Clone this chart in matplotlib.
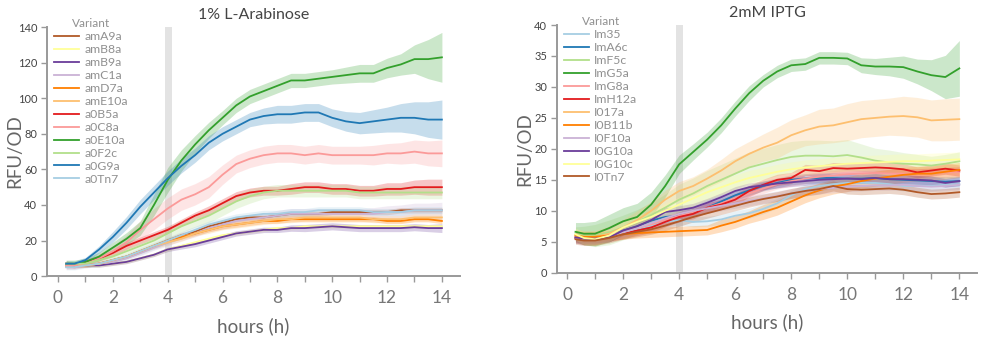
import numpy as np
import matplotlib
matplotlib.use("Agg")
import matplotlib.pyplot as plt
from matplotlib.ticker import MultipleLocator

plt.rcParams['font.family'] = ['Lato', 'DejaVu Sans']

# time grid (hours)
hours = [0.3, 0.6, 1.0, 1.5, 2.0, 2.5, 3.0, 3.5, 4.0, 4.5, 5.0, 5.5, 6.0, 6.5, 7.0,
         7.5, 8.0, 8.5, 9.0, 9.5, 10.0, 10.5, 11.0, 11.5, 12.0, 12.5, 13.0, 13.5, 14.0]

# ---- 1% L-Arabinose ----
ara_names = ['amA9a', 'amB8a', 'amB9a', 'amC1a', 'amD7a', 'amE10a',
             'a0B5a', 'a0C8a', 'a0E10a', 'a0F2c', 'a0G9a', 'a0Tn7']
ara_colors = ['#b15928', '#ffff99', '#6a3d9a', '#cab2d6', '#ff7f00', '#fdbf6f',
              '#e31a1c', '#fb9a99', '#33a02c', '#b2df8a', '#1f78b4', '#a6cee3']

amA9a = [6, 6, 6, 7, 9, 11, 14, 17, 20, 23, 25, 28, 30, 32, 33, 33, 34, 35, 35, 35, 36, 36, 36, 36, 36, 37, 37, 37, 37]
amB8a = [6, 6, 6, 6, 7, 8, 10, 12, 15, 17, 19, 21, 23, 24, 25, 26, 27, 27, 28, 28, 28, 28, 28, 28, 28, 28, 28, 28, 28]
amB9a = [6, 6, 6, 6, 7, 8, 10, 12, 15, 16.5, 18, 20, 22, 24, 25, 26, 26, 27, 27, 27.5, 28, 27.5, 27, 27, 27, 27, 27.5, 27, 27]
amC1a = [5, 5, 6, 7, 8, 10, 13, 16, 19, 22, 24, 27, 29, 31, 32, 33, 34, 35, 35, 35, 35, 35, 35, 35, 36, 36, 37, 37, 37]
amD7a = [6, 6, 6, 7, 9, 11, 14, 17, 20, 22, 24, 26, 28, 29, 30, 31, 31, 32, 32, 32, 32, 32, 32, 32, 31, 31, 32, 32, 31]
amE10a = [6, 6, 6, 7, 9, 11, 14, 17, 19, 21, 24, 26, 28, 29, 30, 31, 32, 32, 33, 33, 33, 33, 33, 32, 32, 32, 33, 33, 33]
a0B5a = [7, 6, 8, 10, 13, 17, 20, 23, 26, 30, 34, 37, 41, 45, 47, 48, 48, 49, 50, 50, 49, 49, 48, 48, 49, 49, 50, 50, 50]
a0C8a = [6, 6, 7, 10, 14, 19, 26, 32, 38, 43, 46, 50, 57, 63, 66, 68, 69, 69, 68, 69, 68, 68, 68, 68, 69, 69, 70, 69, 69]
a0E10a = [7, 7, 8, 11, 16, 21, 27, 40, 54, 65, 74, 82, 89, 96, 101, 104, 107, 110, 110, 111, 112, 113, 114, 114, 117, 119, 122, 122, 123]
a0F2c = [7, 7, 7, 9, 11, 14, 17, 20, 24, 28, 31, 34, 38, 42, 45, 47, 48, 48, 48, 48, 48, 48, 47, 47, 47, 47, 47, 47, 47]
a0G9a = [7, 7, 9, 15, 22, 30, 39, 47, 55, 62, 68, 75, 80, 84, 88, 90, 91, 91, 92, 92, 89, 87, 86, 87, 88, 89, 89, 88, 88]
a0Tn7 = [5, 5, 6, 7, 9, 11, 14, 17, 20, 23, 26, 29, 31, 33, 34, 35, 35, 36, 36, 37, 37, 37, 37, 36, 36, 36, 37, 37, 37]

amA9a_err = [1, 1, 1, 1, 1, 1, 1.2, 1.3, 1.5, 1.5, 1.5, 1.5, 1.5, 1.5, 1.5, 1.5, 1.5, 1.5, 1.5, 1.5, 1.5, 1.5, 1.5, 1.5, 1.5, 1.5, 1.5, 1.5, 1.5]
amB8a_err = [1, 1, 1, 1, 1, 1, 1, 1, 1, 1, 1, 1, 1, 1, 1, 1, 1, 1, 1, 1, 1, 1, 1, 1, 1, 1, 1, 1, 1]
amB9a_err = [1, 1, 1, 1, 1, 1, 1, 1, 1.2, 1.3, 1.5, 1.5, 1.5, 1.5, 1.5, 1.5, 1.5, 1.8, 2, 2, 2, 2, 2, 2, 2, 2, 2, 2, 2.5]
amC1a_err = [1, 1, 1, 1, 1, 1, 1.5, 1.5, 2, 2, 2, 2, 2.5, 2.5, 2.5, 2.5, 3, 3, 3, 3, 3, 3, 3, 3.5, 3.5, 4, 4, 4, 4.5]
amD7a_err = [1, 1, 1, 1, 1, 1, 1, 1, 1.2, 1.2, 1.2, 1.2, 1.5, 1.5, 1.5, 1.5, 1.5, 1.5, 1.5, 1.5, 1.5, 1.5, 1.5, 1.5, 1.5, 1.5, 1.5, 1.5, 1.5]
amE10a_err = [1, 1, 1, 1, 1, 1, 1.2, 1.5, 1.5, 1.5, 1.5, 2, 2, 2, 2, 2, 2, 2, 2, 2, 2, 2, 2, 2, 2, 2, 2, 2, 2]
a0B5a_err = [1.5, 1.5, 1.5, 1.5, 1.5, 2, 2, 2, 2, 2, 2, 2.5, 2.5, 2.5, 2.5, 2.5, 2.5, 3, 3, 3, 3, 3, 3, 3, 3.5, 3.5, 4, 4.5, 4.5]
a0C8a_err = [2, 2, 2, 2.5, 3, 4, 5, 6, 6, 6, 6, 6, 5.5, 5, 5, 5, 5, 5, 5, 5, 5, 5, 5, 5.5, 5.5, 6, 6.5, 7, 7.5]
a0E10a_err = [2, 2, 2, 2.5, 3, 3.5, 4, 6, 7, 6, 5, 4.5, 4, 4, 4, 4, 4, 4, 4, 4, 4, 4.5, 5, 5, 5.5, 6, 8, 11, 14]
a0F2c_err = [1.5, 1.5, 1.5, 1.5, 2, 2, 2.5, 3, 3, 3.5, 3.5, 4, 4, 4, 4, 3.5, 3.5, 3.5, 3.5, 3.5, 3.5, 3.5, 3.5, 3.5, 3.5, 3.5, 3.5, 3.5, 3.5]
a0G9a_err = [1.5, 1.5, 1.5, 2, 3, 3.5, 4, 4, 4, 4, 4, 4, 4, 4, 4, 4.5, 5, 5, 5, 5, 5, 5.5, 6, 6.5, 7, 8, 9, 10, 11]
a0Tn7_err = [1.5, 1.5, 1.5, 1.5, 1.5, 1.5, 2, 2, 2, 2, 2, 2, 2, 2, 2, 2, 2, 2, 2, 2, 2, 2, 2, 2, 2, 2, 2, 2, 2]

ara_means = [amA9a, amB8a, amB9a, amC1a, amD7a, amE10a, a0B5a, a0C8a, a0E10a, a0F2c, a0G9a, a0Tn7]
ara_errs = [amA9a_err, amB8a_err, amB9a_err, amC1a_err, amD7a_err, amE10a_err,
            a0B5a_err, a0C8a_err, a0E10a_err, a0F2c_err, a0G9a_err, a0Tn7_err]

# ---- 2mM IPTG ----
iptg_names = ['Im35', 'ImA6c', 'ImF5c', 'ImG5a', 'ImG8a', 'ImH12a',
              'I017a', 'I0B11b', 'I0F10a', 'I0G10a', 'I0G10c', 'I0Tn7']
iptg_colors = ['#a6cee3', '#1f78b4', '#b2df8a', '#33a02c', '#fb9a99', '#e31a1c',
               '#fdbf6f', '#ff7f00', '#cab2d6', '#6a3d9a', '#ffff99', '#b15928']

Im35 = [5.8, 5.5, 5.5, 5.9, 6.5, 7.1, 7.6, 8.2, 8.5, 8.2, 8.3, 8.6, 9.2, 9.6, 10.3, 11.2, 12.5, 13.5, 14.0, 14.3, 14.5, 14.5, 14.5, 14.3, 14.0, 14.0, 14.0, 14.2, 14.3]
ImA6c = [5.6, 5.4, 5.4, 5.8, 6.8, 7.5, 8.4, 9.0, 9.2, 9.8, 10.5, 11.5, 12.5, 13.3, 14.0, 14.5, 15.0, 15.2, 15.3, 15.3, 15.2, 15.2, 15.3, 15.1, 15.0, 14.9, 14.8, 14.7, 14.8]
ImF5c = [6.2, 6.0, 6.0, 6.5, 7.3, 8.2, 9.3, 10.5, 11.8, 12.8, 14.0, 15.0, 16.0, 17.0, 17.6, 18.2, 18.7, 18.9, 18.9, 18.8, 19.0, 18.6, 18.1, 17.8, 17.6, 17.5, 17.3, 17.6, 18.0]
ImG5a = [6.6, 6.3, 6.3, 7.2, 8.3, 9.0, 11.0, 14.0, 17.5, 19.5, 21.5, 23.8, 26.5, 29.0, 31.0, 32.5, 33.5, 33.7, 34.7, 34.7, 34.6, 33.5, 33.3, 33.3, 33.2, 32.5, 31.9, 31.6, 33.0]
ImG8a = [5.8, 5.5, 5.5, 6.0, 6.6, 7.2, 7.8, 8.5, 9.2, 9.8, 10.5, 11.2, 12.0, 12.8, 13.6, 14.3, 14.8, 15.2, 15.5, 15.7, 15.9, 16.0, 16.1, 16.0, 16.0, 16.0, 16.1, 16.2, 16.3]
ImH12a = [5.6, 5.3, 5.3, 5.8, 6.3, 6.8, 7.3, 8.2, 9.0, 9.5, 10.5, 11.0, 11.8, 13.2, 14.2, 15.0, 15.3, 16.6, 16.4, 16.9, 16.8, 16.9, 17.0, 16.9, 16.7, 16.2, 16.5, 16.8, 16.5]
I017a = [6.0, 5.8, 5.8, 6.3, 7.3, 8.5, 10.0, 11.8, 13.2, 14.0, 15.2, 16.5, 18.0, 19.2, 20.2, 21.0, 22.2, 23.0, 23.6, 23.8, 24.3, 24.8, 25.0, 25.2, 25.3, 25.1, 24.6, 24.7, 24.8]
I0B11b = [6.0, 5.8, 5.8, 6.0, 6.2, 6.4, 6.5, 6.6, 6.7, 6.8, 6.9, 7.6, 8.2, 9.0, 9.8, 10.5, 11.5, 12.5, 13.3, 13.9, 14.3, 14.8, 15.2, 15.5, 15.8, 16.0, 16.0, 16.3, 16.6]
I0F10a = [5.6, 5.4, 5.4, 5.9, 6.5, 7.2, 8.0, 8.8, 9.5, 10.0, 10.4, 10.8, 11.2, 11.6, 12.0, 12.4, 12.8, 13.2, 13.5, 13.7, 13.9, 14.0, 14.1, 14.1, 14.2, 14.0, 13.9, 14.0, 14.2]
I0G10a = [5.7, 5.5, 5.5, 5.7, 6.8, 7.5, 8.5, 9.8, 10.1, 10.5, 11.3, 12.2, 13.2, 13.8, 14.1, 14.4, 14.6, 14.8, 15.0, 15.1, 15.2, 15.1, 15.3, 15.1, 15.1, 15.0, 14.9, 14.5, 14.8]
I0G10c = [6.2, 5.6, 5.4, 6.0, 7.3, 8.2, 9.0, 10.0, 11.0, 12.0, 13.0, 13.8, 14.6, 15.3, 15.8, 16.3, 16.7, 17.0, 17.2, 17.4, 17.6, 17.7, 17.8, 17.9, 18.0, 18.0, 18.1, 18.2, 18.3]
I0Tn7 = [5.4, 5.2, 5.2, 5.6, 6.2, 6.6, 7.0, 7.6, 8.3, 9.0, 9.6, 10.2, 10.8, 11.4, 11.9, 12.3, 12.8, 13.2, 13.5, 14.0, 13.5, 13.4, 13.5, 13.6, 13.4, 13.0, 12.7, 12.8, 13.0]

Im35_err = [0.8, 0.8, 0.8, 0.8, 0.8, 0.8, 0.8, 0.8, 0.8, 0.8, 0.8, 0.8, 0.8, 0.8, 0.8, 0.8, 0.8, 0.8, 0.8, 0.8, 0.8, 0.8, 0.8, 0.8, 0.8, 0.8, 0.8, 0.8, 0.8]
ImA6c_err = [0.8, 0.8, 0.8, 0.8, 0.8, 0.8, 0.8, 0.8, 0.8, 0.8, 0.8, 0.8, 0.8, 0.8, 0.8, 0.8, 0.8, 0.8, 0.8, 0.8, 0.8, 0.8, 0.8, 0.8, 0.8, 0.8, 0.8, 0.8, 0.8]
ImF5c_err = [1.2, 1.5, 1.8, 2.0, 2.0, 2.0, 2.0, 2.2, 2.5, 2.5, 2.5, 2.5, 2.5, 2.5, 2.5, 2.5, 2.5, 2.5, 2.5, 2.5, 2.5, 2.2, 2.0, 2.0, 1.8, 1.6, 1.5, 1.5, 1.5]
ImG5a_err = [1.5, 1.8, 2.0, 2.2, 2.2, 2.2, 2.0, 1.8, 1.5, 1.3, 1.2, 1.2, 1.2, 1.2, 1.0, 1.0, 1.0, 1.0, 1.0, 1.0, 1.0, 1.2, 1.3, 1.5, 1.8, 2.0, 2.5, 3.5, 4.5]
ImG8a_err = [0.8, 0.8, 0.8, 0.8, 0.8, 0.8, 0.8, 0.8, 0.8, 0.8, 0.8, 0.8, 0.8, 0.8, 0.8, 0.8, 0.8, 0.8, 0.8, 0.8, 0.8, 0.8, 0.8, 0.8, 0.8, 0.8, 0.8, 0.8, 0.8]
ImH12a_err = [0.8, 0.8, 0.8, 0.8, 0.8, 0.8, 0.8, 0.8, 0.8, 0.8, 0.8, 0.8, 0.9, 0.9, 0.9, 0.9, 0.9, 0.9, 0.9, 0.9, 0.9, 0.9, 0.9, 0.9, 0.9, 0.9, 0.9, 0.9, 0.9]
I017a_err = [1.0, 1.0, 1.0, 1.2, 1.3, 1.5, 1.5, 1.5, 1.5, 1.5, 1.5, 1.8, 2.0, 2.0, 2.2, 2.5, 2.5, 2.5, 2.8, 2.8, 3.0, 3.0, 3.0, 3.0, 3.2, 3.2, 3.3, 3.4, 3.4]
I0B11b_err = [0.8, 0.8, 0.8, 0.8, 0.8, 0.8, 0.8, 0.8, 0.8, 0.8, 0.8, 1.0, 1.0, 1.0, 1.2, 1.2, 1.2, 1.2, 1.2, 1.2, 1.2, 1.2, 1.2, 1.2, 1.2, 1.2, 1.2, 1.2, 1.2]
I0F10a_err = [0.8, 0.8, 0.8, 0.8, 0.8, 0.8, 0.8, 0.8, 0.8, 0.8, 0.8, 0.8, 0.8, 0.8, 0.8, 0.8, 0.8, 0.8, 0.8, 0.8, 0.8, 0.8, 0.8, 0.8, 0.8, 0.8, 0.8, 0.8, 0.8]
I0G10a_err = [0.7, 0.7, 0.7, 0.7, 0.7, 0.7, 0.7, 0.7, 0.7, 0.7, 0.7, 0.7, 0.7, 0.7, 0.7, 0.7, 0.7, 0.7, 0.7, 0.7, 0.7, 0.7, 0.7, 0.7, 0.7, 0.7, 0.7, 0.7, 0.7]
I0G10c_err = [1.0, 1.0, 1.0, 1.0, 1.0, 1.0, 1.0, 1.2, 1.2, 1.2, 1.2, 1.2, 1.2, 1.2, 1.2, 1.2, 1.2, 1.2, 1.2, 1.2, 1.2, 1.2, 1.2, 1.2, 1.2, 1.2, 1.2, 1.2, 1.2]
I0Tn7_err = [0.8, 0.8, 0.8, 0.8, 0.8, 0.8, 0.8, 0.8, 0.8, 0.8, 0.8, 0.8, 0.8, 0.8, 0.8, 0.8, 0.8, 0.8, 0.8, 0.8, 0.8, 0.8, 0.8, 0.8, 0.8, 0.8, 0.8, 0.8, 0.8]

iptg_means = [Im35, ImA6c, ImF5c, ImG5a, ImG8a, ImH12a, I017a, I0B11b, I0F10a, I0G10a, I0G10c, I0Tn7]
iptg_errs = [Im35_err, ImA6c_err, ImF5c_err, ImG5a_err, ImG8a_err, ImH12a_err,
             I017a_err, I0B11b_err, I0F10a_err, I0G10a_err, I0G10c_err, I0Tn7_err]

induction_time = (3.9, 4.15)

TEXT = '#444444'
SPINE = '#999999'


def draw_panel(ax, names, colors, means, errs, title, ymax, ystep, xlim, ylabel_x):
    x = np.array(hours)
    ax.axvspan(*induction_time, color='#e3e3e3', lw=0, zorder=0)
    for name, c, m, e in zip(names, colors, means, errs):
        m = np.array(m)
        e = np.array(e)
        ax.fill_between(x, m - e, m + e, color=c, alpha=0.25, lw=0, zorder=1)
        ax.plot(x, m, color=c, lw=1.3, label=name, zorder=2)

    ax.set_xlim(*xlim)
    ax.set_ylim(0, ymax)
    ax.xaxis.set_major_locator(MultipleLocator(2))
    ax.xaxis.set_minor_locator(MultipleLocator(1))
    ax.yaxis.set_major_locator(MultipleLocator(ystep))
    for s in ['top', 'right']:
        ax.spines[s].set_visible(False)
    for s in ['left', 'bottom']:
        ax.spines[s].set_color(SPINE)
        ax.spines[s].set_linewidth(1.4)
    ax.tick_params(axis='x', which='both', length=4, width=1, color=SPINE,
                   labelsize=12.5, labelcolor='#777777', pad=6)
    ax.tick_params(axis='y', length=4, width=1, color=SPINE,
                   labelsize=8, labelcolor=TEXT, pad=3)
    ax.set_title(title, fontsize=11.5, color=TEXT, pad=6)
    ax.set_xlabel('hours (h)', fontsize=13.5, color='#666666', labelpad=8)
    ax.set_ylabel('RFU/OD', fontsize=13.5, color='#666666')
    ax.yaxis.set_label_coords(ylabel_x, 0.5)
    leg = ax.legend(title='Variant', loc='upper left', bbox_to_anchor=(0.0, 1.065),
                    frameon=False, fontsize=8.8, title_fontsize=8.5,
                    handlelength=2.0, handletextpad=0.45, labelspacing=0.16,
                    borderaxespad=0.2)
    for t in leg.get_texts():
        t.set_color('#909090')
    leg.get_title().set_color('#909090')


fig = plt.figure(figsize=(10, 3.43), dpi=100)
ax1 = fig.add_axes([0.047, 0.195, 0.413, 0.726])
ax2 = fig.add_axes([0.557, 0.205, 0.420, 0.722])

draw_panel(ax1, ara_names, ara_colors, ara_means, ara_errs,
           '1% L-Arabinose', 140, 20, (-0.4, 14.66), -0.058)
draw_panel(ax2, iptg_names, iptg_colors, iptg_means, iptg_errs,
           '2mM IPTG', 40, 5, (-0.36, 14.63), -0.057)

fig.savefig('out.png', dpi=100)
